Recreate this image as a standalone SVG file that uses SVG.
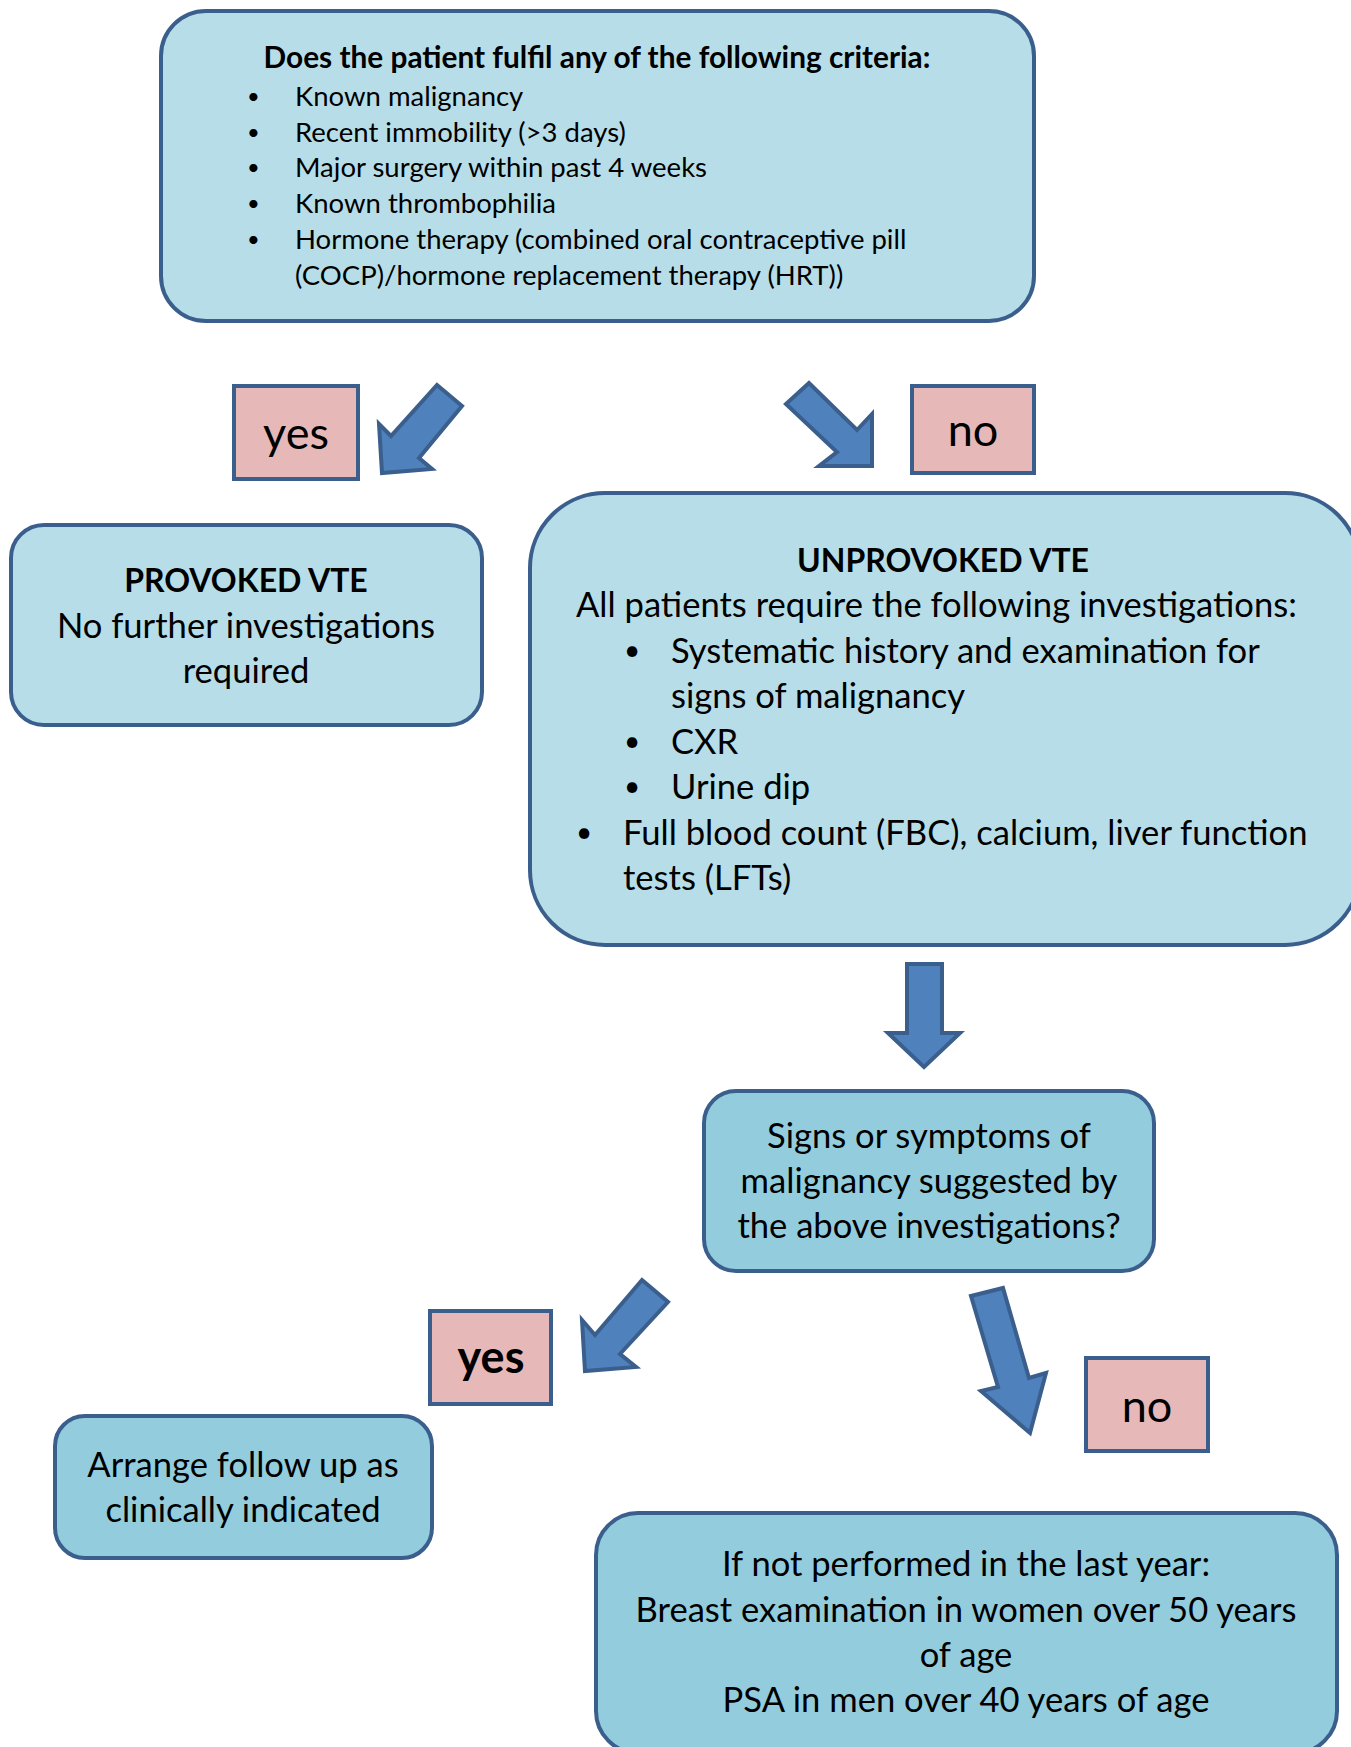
<svg xmlns="http://www.w3.org/2000/svg" width="1351" height="1747" viewBox="0 0 1351 1747">
<style>
.box{stroke:#3B5F8D;stroke-width:4}
.l{fill:#B7DEE8}
.d{fill:#93CDDD}
.p{fill:#E6B9B8}
.arr{fill:#4F81BD;stroke:#3B5F8D;stroke-width:4;stroke-linejoin:miter}
text{font-family:Lato,"Open Sans",sans-serif;fill:#000}
.c{text-anchor:middle}
.b{font-weight:bold}
.t{font-size:27.5px}
.tb{font-size:29.8px}
.m{font-size:34.6px}
.h{font-size:32px}
.bu{font-size:22px}
.bm{font-size:28px}
.yn{font-size:45px}
</style>
<rect width="1351" height="1747" fill="#fff"/>
<g id="connectors">
<polygon class="arr" points="437,385 462,406 419,458 432,469 382,473 379,424 391,436"/>
<polygon class="arr" points="809,383 786,404 837,452 819,466 872,466 872,414 857,430"/>
<polygon class="arr" points="907,964 942,964 942,1033 960,1033 924,1067 888,1033 907,1033"/>
<polygon class="arr" points="642,1280 668,1302 620,1354 636,1367 585,1371 582,1320 595,1335"/>
<polygon class="arr" points="971,1296 1003,1288 1029,1378 1046,1373 1030,1433 981,1391 998,1387"/>
</g>
<g id="criteria">
<rect class="box l" x="161" y="11" width="873" height="310" rx="45"/>
<text class="tb b c" x="597" y="68">Does the patient fulfil any of the following criteria:</text>
<g class="bu">
<text x="247" y="104">•</text>
<text x="247" y="140">•</text>
<text x="247" y="175">•</text>
<text x="247" y="211">•</text>
<text x="247" y="247">•</text>
</g>
<g class="t">
<text x="295" y="106">Known malignancy</text>
<text x="295" y="142">Recent immobility (&gt;3 days)</text>
<text x="295" y="177">Major surgery within past 4 weeks</text>
<text x="295" y="213">Known thrombophilia</text>
<text x="295" y="249">Hormone therapy (combined oral contraceptive pill</text>
<text x="295" y="285">(COCP)/hormone replacement therapy (HRT))</text>
</g>
</g>
<g id="yes1">
<rect class="box p" x="234" y="386" width="124" height="93"/>
<text class="yn c" x="296" y="449">yes</text>
</g>
<g id="no1">
<rect class="box p" x="912" y="386" width="122" height="87"/>
<text class="yn c" x="973" y="446">no</text>
</g>
<g id="provoked">
<rect class="box l" x="11" y="525" width="471" height="200" rx="33"/>
<text class="h b c" x="246" y="592">PROVOKED VTE</text>
<text class="m c" x="246" y="638">No further investigations</text>
<text class="m c" x="246" y="683">required</text>
</g>
<g id="unprovoked">
<rect class="box l" x="530" y="493" width="830" height="452" rx="75"/>
<text class="h b c" x="943" y="572">UNPROVOKED VTE</text>
<g class="bm">
<text x="624" y="660">•</text>
<text x="624" y="751">•</text>
<text x="624" y="796">•</text>
<text x="576" y="842">•</text>
</g>
<g class="m">
<text x="576" y="617">All patients require the following investigations:</text>
<text x="671" y="663">Systematic history and examination for</text>
<text x="671" y="708">signs of malignancy</text>
<text x="671" y="754">CXR</text>
<text x="671" y="799">Urine dip</text>
<text x="623" y="845">Full blood count (FBC), calcium, liver function</text>
<text x="623" y="890">tests (LFTs)</text>
</g>
</g>
<g id="signs">
<rect class="box d" x="704" y="1091" width="450" height="180" rx="32"/>
<text class="m c" x="929" y="1148">Signs or symptoms of</text>
<text class="m c" x="929" y="1193">malignancy suggested by</text>
<text class="m c" x="929" y="1238">the above investigations?</text>
</g>
<g id="yes2">
<rect class="box p" x="430" y="1311" width="121" height="93"/>
<text class="yn b c" x="491" y="1373">yes</text>
</g>
<g id="no2">
<rect class="box p" x="1086" y="1358" width="122" height="93"/>
<text class="yn c" x="1147" y="1422">no</text>
</g>
<g id="followup">
<rect class="box d" x="55" y="1416" width="377" height="142" rx="30"/>
<text class="m c" x="243" y="1477">Arrange follow up as</text>
<text class="m c" x="243" y="1522">clinically indicated</text>
</g>
<g id="screening">
<rect class="box d" x="596" y="1513" width="741" height="240" rx="42"/>
<text class="m c" x="966" y="1576">If not performed in the last year:</text>
<text class="m c" x="966" y="1622">Breast examination in women over 50 years</text>
<text class="m c" x="966" y="1667">of age</text>
<text class="m c" x="966" y="1712">PSA in men over 40 years of age</text>
</g>
</svg>
